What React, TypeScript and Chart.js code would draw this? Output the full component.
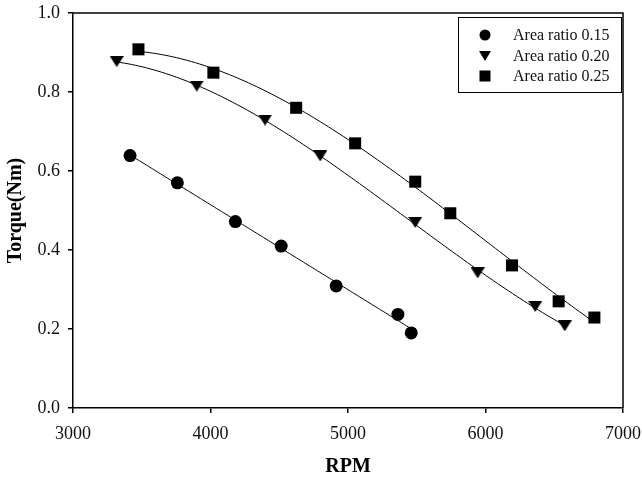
import React, { useEffect, useRef } from "react";
import { Chart, registerables } from "chart.js";

Chart.register(...registerables);

// Measured torque against speed for three nozzle area ratios
const rpm015 = [3415, 3759, 4181, 4514, 4914, 5363, 5460];
const torque015 = [0.639, 0.57, 0.472, 0.41, 0.309, 0.237, 0.19];

const rpm020 = [3318, 3900, 4397, 4798, 5489, 5943, 6362, 6576];
const torque020 = [0.877, 0.815, 0.729, 0.638, 0.47, 0.342, 0.257, 0.208];

const rpm025 = [3476, 4021, 4623, 5052, 5489, 5744, 6193, 6532, 6792];
const torque025 = [0.908, 0.849, 0.76, 0.67, 0.573, 0.493, 0.361, 0.27, 0.229];

const seriesLabels = ["Area ratio 0.15", "Area ratio 0.20", "Area ratio 0.25"];
// polynomial order of the regression curve drawn through each series
const fitOrders = [1, 3, 3];

const xTicks = [3000, 4000, 5000, 6000, 7000];
const yTicks = [0, 0.2, 0.4, 0.6, 0.8, 1.0];

const FONT = "'Liberation Serif', 'Times New Roman', serif";

function toPoints(xs: number[], ys: number[]) {
  return xs.map((x, i) => ({ x, y: ys[i] }));
}

// Least-squares polynomial regression; x is centred/scaled for conditioning
function polyFit(xs: number[], ys: number[], order: number) {
  const n = order + 1;
  const sx = (x: number) => (x - 5000) / 1000;
  const A: number[][] = Array.from({ length: n }, () => new Array(n + 1).fill(0));
  xs.forEach((x0, k) => {
    const x = sx(x0);
    for (let i = 0; i < n; i++) {
      for (let j = 0; j < n; j++) A[i][j] += Math.pow(x, i + j);
      A[i][n] += ys[k] * Math.pow(x, i);
    }
  });
  for (let c = 0; c < n; c++) {
    let p = c;
    for (let r = c + 1; r < n; r++) if (Math.abs(A[r][c]) > Math.abs(A[p][c])) p = r;
    [A[c], A[p]] = [A[p], A[c]];
    for (let r = 0; r < n; r++) {
      if (r === c) continue;
      const f = A[r][c] / A[c][c];
      for (let k = c; k <= n; k++) A[r][k] -= f * A[c][k];
    }
  }
  const coef = A.map((row, i) => row[n] / row[i]);
  return (x0: number) => {
    const x = sx(x0);
    return coef.reduce((s, c, i) => s + c * Math.pow(x, i), 0);
  };
}

// Down-pointing triangle marker
function makeTriangle(w: number, h: number) {
  const c = document.createElement("canvas");
  c.width = w;
  c.height = h;
  const g = c.getContext("2d")!;
  g.fillStyle = "#000";
  g.beginPath();
  g.moveTo(0, 0);
  g.lineTo(w, 0);
  g.lineTo(w / 2, h);
  g.closePath();
  g.fill();
  return c;
}

// Regression curves, drawn under the markers
const fitCurves = {
  id: "fitCurves",
  beforeDatasetsDraw(chart: any) {
    const { ctx, chartArea, scales } = chart;
    ctx.save();
    ctx.beginPath();
    ctx.rect(chartArea.left, chartArea.top, chartArea.width, chartArea.height);
    ctx.clip();
    ctx.strokeStyle = "#000";
    ctx.lineWidth = 1;
    chart.data.datasets.forEach((ds: any, i: number) => {
      const xs = ds.data.map((p: any) => p.x);
      const ys = ds.data.map((p: any) => p.y);
      const f = polyFit(xs, ys, fitOrders[i]);
      const x0 = Math.min(...xs);
      const x1 = Math.max(...xs);
      const steps = 120;
      ctx.beginPath();
      for (let s = 0; s <= steps; s++) {
        const x = x0 + ((x1 - x0) * s) / steps;
        const px = scales.x.getPixelForValue(x);
        const py = scales.y.getPixelForValue(f(x));
        if (s === 0) ctx.moveTo(px, py);
        else ctx.lineTo(px, py);
      }
      ctx.stroke();
    });
    ctx.restore();
  },
};

const frameAndLegend = {
  id: "frameAndLegend",
  afterDraw(chart: any) {
    const { ctx, chartArea } = chart;
    ctx.save();
    // top and right edges of the plot box
    ctx.strokeStyle = "#000";
    ctx.lineWidth = 1.5;
    ctx.beginPath();
    ctx.moveTo(chartArea.left, chartArea.top);
    ctx.lineTo(chartArea.right, chartArea.top);
    ctx.lineTo(chartArea.right, chartArea.bottom);
    ctx.stroke();

    // legend box
    const bx = chartArea.right - 165;
    const by = chartArea.top + 4;
    const bw = 163;
    const bh = 75;
    ctx.lineWidth = 1;
    ctx.strokeRect(bx + 0.5, by + 0.5, bw, bh);

    const mx = bx + 27;
    const tx = bx + 55;
    const rows = [by + 18, by + 39, by + 59];
    ctx.fillStyle = "#000";
    ctx.beginPath();
    ctx.arc(mx, rows[0], 5.5, 0, Math.PI * 2);
    ctx.fill();
    ctx.beginPath();
    ctx.moveTo(mx - 6, rows[1] - 5);
    ctx.lineTo(mx + 6, rows[1] - 5);
    ctx.lineTo(mx, rows[1] + 5);
    ctx.closePath();
    ctx.fill();
    ctx.fillRect(mx - 5.5, rows[2] - 5.5, 11, 11);

    ctx.font = `16px ${FONT}`;
    ctx.fillStyle = "#111";
    ctx.textBaseline = "middle";
    ctx.textAlign = "left";
    seriesLabels.forEach((t, i) => ctx.fillText(t, tx, rows[i] + 1));
    ctx.restore();
  },
};

export default function App() {
  const canvasRef = useRef<HTMLCanvasElement | null>(null);

  useEffect(() => {
    const tri = makeTriangle(14, 11);
    const common = {
      showLine: false,
      borderColor: "#000",
      backgroundColor: "#000",
      pointBackgroundColor: "#000",
      pointBorderColor: "#000",
      pointBorderWidth: 0,
    };
    const chart = new Chart(canvasRef.current!, {
      type: "scatter",
      data: {
        datasets: [
          {
            ...common,
            label: seriesLabels[0],
            data: toPoints(rpm015, torque015),
            pointStyle: "circle",
            pointRadius: 6.5,
          },
          {
            ...common,
            label: seriesLabels[1],
            data: toPoints(rpm020, torque020),
            pointStyle: tri as any,
            pointRadius: 7,
          },
          {
            ...common,
            label: seriesLabels[2],
            data: toPoints(rpm025, torque025),
            pointStyle: "rect",
            pointRadius: 8.5,
          },
        ],
      },
      options: {
        animation: false,
        responsive: false,
        devicePixelRatio: 1,
        layout: { padding: { top: 13, right: 19, left: 0, bottom: 0 } },
        plugins: {
          legend: { display: false },
          tooltip: { enabled: false },
        },
        scales: {
          x: {
            type: "linear",
            min: 3000,
            max: 7000,
            afterBuildTicks: (s: any) => {
              s.ticks = xTicks.map((v) => ({ value: v }));
            },
            afterFit: (s: any) => {
              s.height = 71;
              s.paddingLeft = 0;
              s.paddingRight = 0;
            },
            ticks: {
              color: "#111",
              font: { family: FONT, size: 18 },
              padding: 10,
              maxRotation: 0,
              callback: (v: any) => String(v),
            },
            grid: {
              drawOnChartArea: false,
              drawTicks: true,
              tickLength: 5,
              color: "#000",
              lineWidth: 1.5,
            },
            border: { color: "#000", width: 1.5 },
            title: {
              display: true,
              text: "RPM",
              color: "#000",
              font: { family: FONT, size: 20, weight: "bold" },
              padding: { top: 0, bottom: 0 },
            },
          },
          y: {
            type: "linear",
            min: 0,
            max: 1,
            afterBuildTicks: (s: any) => {
              s.ticks = yTicks.map((v) => ({ value: v }));
            },
            afterFit: (s: any) => {
              s.width = 73;
              s.paddingTop = 0;
              s.paddingBottom = 0;
            },
            ticks: {
              color: "#111",
              font: { family: FONT, size: 18 },
              padding: 8,
              callback: (v: any) => Number(v).toFixed(1),
            },
            grid: {
              drawOnChartArea: false,
              drawTicks: true,
              tickLength: 5,
              color: "#000",
              lineWidth: 1.5,
            },
            border: { color: "#000", width: 1.5 },
            title: {
              display: true,
              text: "Torque(Nm)",
              color: "#000",
              font: { family: FONT, size: 20, weight: "bold" },
              padding: { top: 4, bottom: 0 },
            },
          },
        },
      },
      plugins: [fitCurves, frameAndLegend],
    });
    return () => chart.destroy();
  }, []);

  return (
    <div style={{ position: "absolute", left: 0, top: 0, width: 642, height: 479, background: "#fff" }}>
      <canvas ref={canvasRef} width={642} height={479} style={{ display: "block" }} />
    </div>
  );
}
